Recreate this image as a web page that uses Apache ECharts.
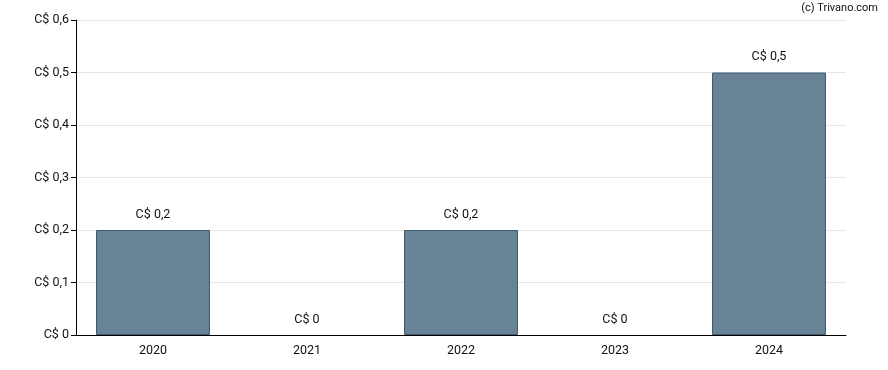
<!DOCTYPE html>
<html><head><meta charset="utf-8">
<script src="https://cdn.jsdelivr.net/npm/echarts@6/dist/echarts.min.js"></script>
<style>html,body{margin:0;padding:0;background:#fff}#c{width:888px;height:370px}</style>
</head><body><div id="c"></div>
<script>
var categories = ['2020','2021','2022','2023','2024'];
var values = [0.2, 0, 0.2, 0, 0.5];
var yTicks = [0, 0.1, 0.2, 0.3, 0.4, 0.5, 0.6];
function fmt(v){ return 'C$ ' + String(+v.toFixed(2)).replace('.', ','); }
var chart = echarts.init(document.getElementById('c'));
chart.setOption({
  animation: false,
  textStyle: {fontFamily: 'Roboto'},
  graphic: [{type:'text', right: 10, top: 3, style:{text:'(c) Trivano.com', font:'11px Roboto', fill:'#111'}}],
  grid: {left: 76, right: 42, top: 20, bottom: 35},
  xAxis: {type:'category', data: categories,
    axisLine:{lineStyle:{color:'#000'}},
    axisTick:{alignWithLabel:true, length:5, lineStyle:{color:'#000'}},
    axisLabel:{color:'#111', fontSize:12.5, margin:9}},
  yAxis: {type:'value', min: yTicks[0], max: yTicks[yTicks.length-1], interval: 0.1,
    axisLine:{show:true, lineStyle:{color:'#000'}},
    axisTick:{show:true, length:5, lineStyle:{color:'#000'}},
    splitLine:{lineStyle:{color:'#e6e6e6'}},
    axisLabel:{color:'#111', fontSize:12.5, margin:7, formatter: fmt}},
  series: [{type:'bar', barWidth:'74%',
    data: values.map(function(v){ return {value: v, itemStyle: {borderWidth: v === 0 ? 0 : 1}}; }),
    itemStyle:{color:'#678395', borderColor:'#3f5b70', borderWidth:1},
    label:{show:true, position:'top', distance:9, color:'#111', fontSize:12.5, formatter: function(p){return fmt(p.value);}}}]
});
</script></body></html>
